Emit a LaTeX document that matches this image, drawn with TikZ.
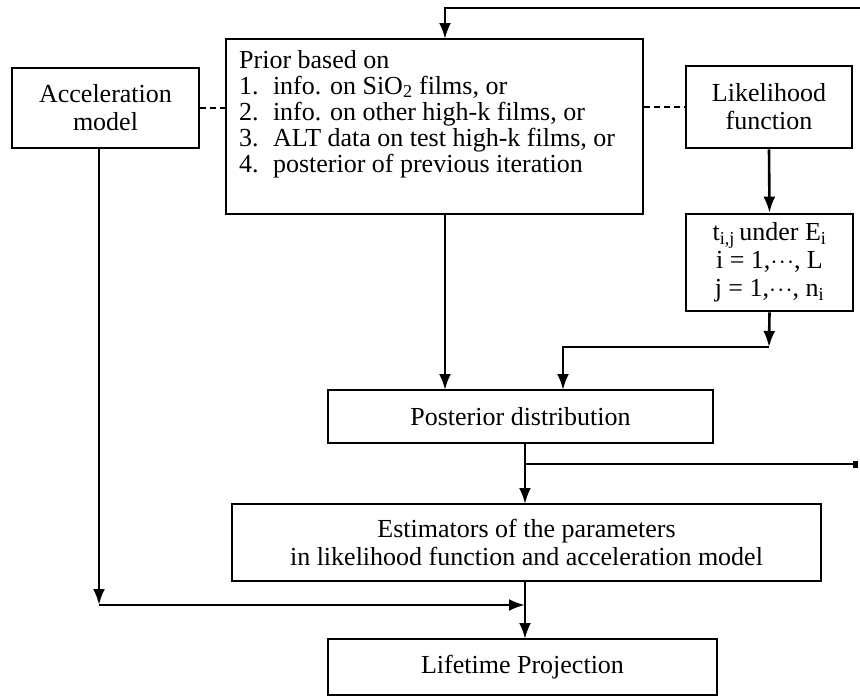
\documentclass[tikz,border=0pt]{standalone}
\usepackage{fontspec}
\setmainfont{Liberation Serif}
\usetikzlibrary{arrows.meta}
\newcommand{\mydots}{$\cdot\mkern-3mu\cdot\mkern-3mu\cdot$}
\begin{document}
\begin{tikzpicture}[x=1pt,y=-1pt,
  box/.style={draw,line width=2.6pt,inner sep=0pt,align=center,font=\fontsize{26}{28}\selectfont},
  conn/.style={line width=2.6pt,-{Latex[length=16pt,width=12pt]}},
  dashlink/.style={line width=2.6pt,dash pattern=on 6pt off 4pt}]
\useasboundingbox (0,0) rectangle (860,696);
\node[box,minimum width=187,minimum height=80] (acc) at (105.5,108) {Acceleration\\model};
\node[box,minimum width=417,minimum height=175] (prior) at (434.5,126.5) {};
\node[anchor=north west,inner sep=0pt,align=left,font=\fontsize{26}{26}\selectfont] (priortext) at (239,50)
  {Prior based on\\
   1.\hspace{0.55em}info. on SiO\textsubscript{2} films, or\\
   2.\hspace{0.55em}info. on other high-k films, or\\
   3.\hspace{0.55em}ALT data on test high-k films, or\\
   4.\hspace{0.55em}posterior of previous iteration};
\node[box,minimum width=166,minimum height=82] (lik) at (769,107) {Likelihood\\function};
\node[box,minimum width=167,minimum height=97,font=\fontsize{26}{28}\selectfont] (data) at (769.5,262.5)
  {t\textsubscript{i,j}\,under E\textsubscript{i}\\ i = 1,\mydots, L\\ j = 1,\mydots, n\textsubscript{i}};
\node[box,minimum width=385,minimum height=53] (post) at (520.5,416.5) {Posterior distribution};
\node[box,minimum width=589,minimum height=77] (est) at (526.5,542.5) {Estimators of the parameters\\ in likelihood function and acceleration model};
\node[box,minimum width=389,minimum height=56] (life) at (522.5,667) {Lifetime Projection};
% dashed links
\draw[dashlink] (acc.east) -- (acc.east -| prior.west);
\draw[dashlink] (prior.east |- lik.west) -- (lik.west);
% feedback loop top
\coordinate (topright) at (860,8);
\draw[conn] (topright) -- (445,8) -- (445,39);
% likelihood to data
\draw[conn] (lik.south) -- (data.north);
% data to posterior
\coordinate (djoin) at (769,347);
\draw[conn] (data.south) -- (djoin);
\draw[conn] (djoin) -- (563,347) -- (563,390);
% prior to posterior
\draw[conn] (445,214) -- (445,390);
% posterior to estimators
\draw[conn] (525,443) -- (525,504);
\coordinate (outright) at (858,464);
\draw[line width=2.6pt,-{Square[length=5pt,width=7pt]}] (525,464) -- (outright);
% acceleration down
\coordinate (accjoin) at (99,605);
\draw[conn] (99,148) -- (accjoin);
\draw[conn] (accjoin) -- (525,605);
% estimators to lifetime
\draw[conn] (525,581) -- (525,639);
\end{tikzpicture}
\end{document}
